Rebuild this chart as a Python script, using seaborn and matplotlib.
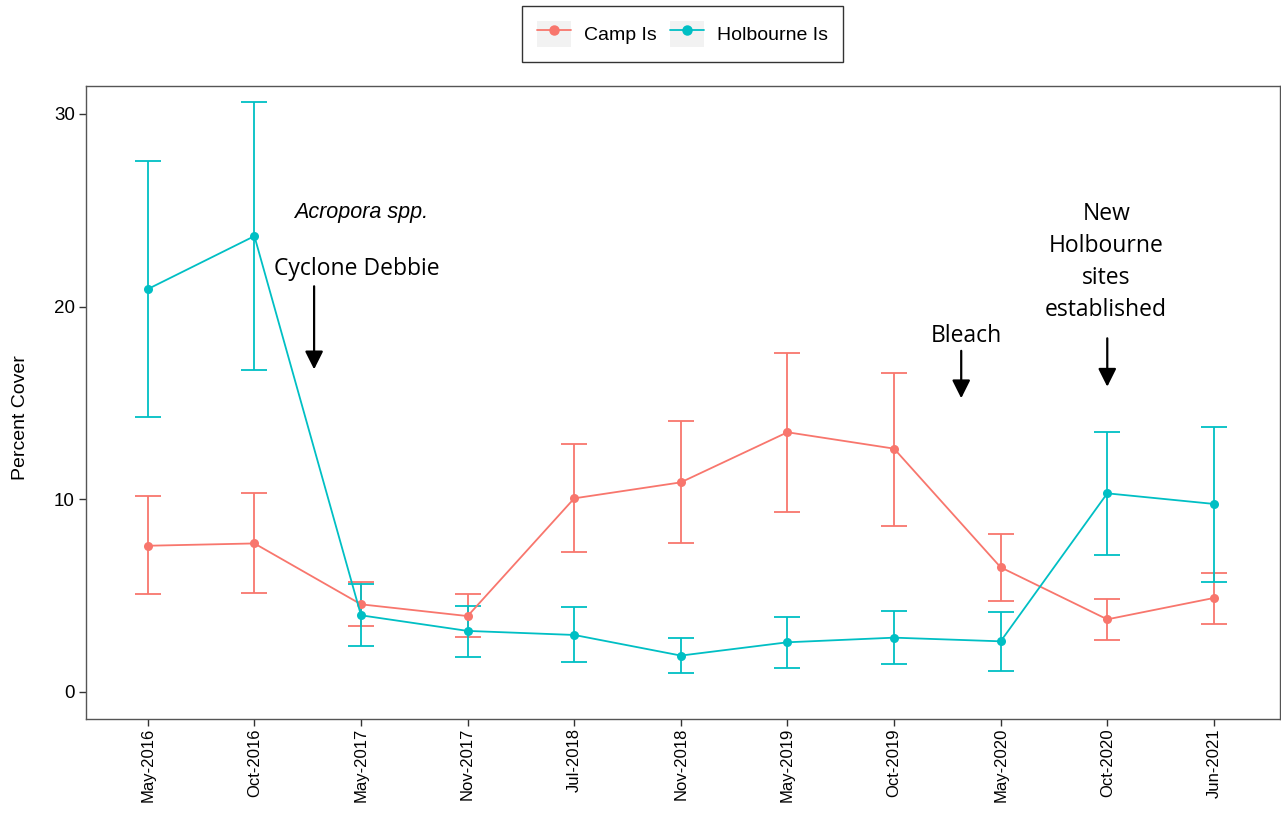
import numpy as np
import pandas as pd
import seaborn as sns
import matplotlib.pyplot as plt
from matplotlib.lines import Line2D
from matplotlib.patches import Patch
from matplotlib.legend_handler import HandlerTuple

# Survey dates (x axis)
dates = ["May-2016", "Oct-2016", "May-2017", "Nov-2017", "Jul-2018", "Nov-2018",
         "May-2019", "Oct-2019", "May-2020", "Oct-2020", "Jun-2021"]

# Camp Is - mean percent cover with lower / upper error limits
camp_mean = [7.59, 7.71, 4.55, 3.94, 10.05, 10.88, 13.48, 12.63, 6.47, 3.77, 4.88]
camp_low = [5.09, 5.12, 3.42, 2.84, 7.25, 7.73, 9.34, 8.63, 4.72, 2.70, 3.53]
camp_high = [10.17, 10.33, 5.71, 5.07, 12.89, 14.08, 17.59, 16.57, 8.22, 4.81, 6.19]

# Holbourne Is - mean percent cover with lower / upper error limits
holb_mean = [20.91, 23.66, 3.98, 3.17, 2.96, 1.89, 2.58, 2.82, 2.63, 10.31, 9.76]
holb_low = [14.27, 16.70, 2.39, 1.83, 1.56, 0.99, 1.23, 1.44, 1.09, 7.09, 5.72]
holb_high = [27.57, 30.60, 5.60, 4.46, 4.41, 2.79, 3.89, 4.20, 4.15, 13.49, 13.77]

sites = ["Camp Is", "Holbourne Is"]
colors = {"Camp Is": "#F8766D", "Holbourne Is": "#00BFC4"}

# Build long-format table for seaborn
df = pd.DataFrame({
    "idx": list(range(len(dates))) * 2,
    "Date": dates * 2,
    "Site": ["Camp Is"] * len(dates) + ["Holbourne Is"] * len(dates),
    "Cover": camp_mean + holb_mean,
    "Low": camp_low + holb_low,
    "High": camp_high + holb_high,
})

sns.set_style("white")
plt.rcParams["font.family"] = ["Liberation Sans", "DejaVu Sans"]
plt.rcParams["text.color"] = "black"
plt.rcParams["axes.labelcolor"] = "black"
plt.rcParams["xtick.color"] = "black"
plt.rcParams["ytick.color"] = "black"

fig = plt.figure(figsize=(12.81, 8.23), dpi=100)
ax = fig.add_axes([0.0671, 0.1264, 0.9321, 0.7691])

# Error bars first, then lines with points on top
for site in sites:
    d = df[df["Site"] == site]
    yerr = np.vstack([d["Cover"] - d["Low"], d["High"] - d["Cover"]])
    ax.errorbar(d["idx"], d["Cover"], yerr=yerr, fmt="none", ecolor=colors[site],
                elinewidth=1.3, capsize=9.5, capthick=1.3, zorder=2)

sns.lineplot(data=df, x="idx", y="Cover", hue="Site", palette=colors, marker="o",
             markersize=6.5, markeredgewidth=0, linewidth=1.3, legend=False,
             ax=ax, zorder=3)

ax.set_xlim(-0.58, 10.62)
ax.set_ylim(-1.4, 31.45)
ax.set_xticks(range(len(dates)))
ax.set_xticklabels(dates, rotation=90, fontsize=12)
ax.set_yticks([0, 10, 20, 30])
ax.tick_params(axis="y", labelsize=13.5, pad=3)
ax.tick_params(axis="x", pad=1.5)
ax.tick_params(direction="out", length=5, width=1, color="#333333", left=True, bottom=True)
ax.set_xlabel("")
ax.set_ylabel("Percent Cover", fontsize=14)
ax.yaxis.set_label_coords(-0.0478, 0.4755)
for sp in ax.spines.values():
    sp.set_color("#555555")
    sp.set_linewidth(1)

# Annotations
arrow = dict(arrowstyle="-|>,head_length=1.1,head_width=0.55", color="black", lw=1.6)
ax.text(2.0, 24.9, "Acropora spp.", style="italic", fontsize=15.5, ha="center", va="center")
ax.text(1.96, 21.95, "Cyclone Debbie", family="Open Sans", fontsize=16.5, ha="center", va="center")
ax.annotate("", xy=(1.56, 16.6), xytext=(1.56, 21.2), arrowprops=arrow)
ax.text(7.68, 18.47, "Bleach", family="Open Sans", fontsize=16.5, ha="center", va="center")
ax.annotate("", xy=(7.63, 15.1), xytext=(7.63, 17.85), arrowprops=arrow)
ax.text(8.99, 22.3, "New\nHolbourne\nsites\nestablished", family="Open Sans", fontsize=16.5,
        ha="center", va="center", linespacing=1.45)
ax.annotate("", xy=(9.0, 15.7), xytext=(9.0, 18.5), arrowprops=arrow)

# Legend with grey key backgrounds
handles = []
for site in sites:
    bg = Patch(facecolor="#F2F2F2", edgecolor="none")
    ln = Line2D([], [], color=colors[site], marker="o", markersize=6.5, linewidth=1.3)
    handles.append((bg, ln))
leg = fig.legend(handles, sites, handler_map={tuple: HandlerTuple(ndivide=1, pad=0)},
                 loc="center", bbox_to_anchor=(0.5328, 0.9587), ncol=2, fontsize=14,
                 frameon=True, fancybox=False, edgecolor="black", handlelength=1.75,
                 handleheight=1.75, handletextpad=0.67, columnspacing=0.72, borderpad=0.75,
                 numpoints=1)
leg.get_frame().set_linewidth(1)

fig.savefig("out.png", dpi=100)
